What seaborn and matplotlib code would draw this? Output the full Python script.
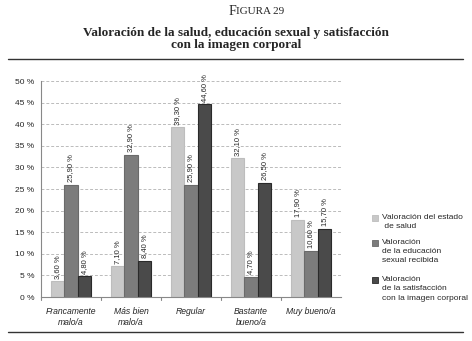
import matplotlib
matplotlib.use("Agg")
import matplotlib.pyplot as plt
import seaborn as sns
import pandas as pd
import numpy as np
from matplotlib.lines import Line2D
from matplotlib.patches import Rectangle

categories = ["Francamente\nmalo/a", "Más bien\nmalo/a", "Regular", "Bastante\nbueno/a", "Muy bueno/a"]
series = ["Valoración del estado\n de salud",
          "Valoración\nde la educación\nsexual recibida",
          "Valoración\nde la satisfacción\ncon la imagen corporal"]
salud = [3.60, 7.10, 39.30, 32.10, 17.90]
educacion = [25.90, 32.90, 25.90, 4.70, 10.60]
imagen = [4.80, 8.40, 44.60, 26.50, 15.70]
colors = ["#c8c8c8", "#7c7c7c", "#4a4a4a"]
edges = ["#bdbdbd", "#6a6a6a", "#2a2a2a"]

sns.set_style("white")
narrow = ["Liberation Sans Narrow", "Liberation Sans", "DejaVu Sans"]

rows = []
for s, vals in zip(series, [salud, educacion, imagen]):
    for c, v in zip(categories, vals):
        rows.append({"cat": c, "serie": s, "val": v})
df = pd.DataFrame(rows)

fig = plt.figure(figsize=(4.72, 3.41), dpi=100)
ax = fig.add_axes([0.087, 0.129, 0.635, 0.633])
sns.barplot(data=df, x="cat", y="val", hue="serie", order=categories, hue_order=series,
            palette=colors, width=0.67, ax=ax, legend=False, saturation=1)

for cont, ec in zip(ax.containers, edges):
    for p in cont.patches:
        p.set_edgecolor(ec)
        p.set_linewidth(0.8)
    labels = [("%.2f" % v).replace(".", ",") + " %" for v in cont.datavalues]
    ax.bar_label(cont, labels=labels, rotation=90, padding=2, fontsize=5.5, family=narrow)

ax.set_ylim(0, 50)
ax.set_xlim(-0.5, 4.5)
ax.set_yticks(np.arange(0, 51, 5))
ax.set_yticklabels([f"{t} %" for t in range(0, 51, 5)], family=narrow, fontsize=6)
ax.set_xticks(range(5))
ax.set_xticklabels(categories, family=narrow, fontsize=6.2, style="italic", linespacing=1.35)
ax.tick_params(axis="x", length=0, pad=7)
ax.tick_params(axis="y", length=3, width=0.8, color="#888888", pad=2)
ax.set_xlabel("")
ax.set_ylabel("")
for b in np.arange(-0.5, 4.5, 1.0):
    ax.plot([b, b], [0, -0.015], transform=ax.get_xaxis_transform(), color="#888888",
            lw=0.8, clip_on=False)
ax.yaxis.grid(True, linestyle=(0, (3, 2)), color="#bbbbbb", lw=0.7)
ax.set_axisbelow(True)
for sp in ["top", "right"]:
    ax.spines[sp].set_visible(False)
for sp in ["left", "bottom"]:
    ax.spines[sp].set_color("#888888")
    ax.spines[sp].set_linewidth(0.8)

# legend drawn manually: square aligned with first text line
W, H = 472.0, 341.0
leg_y = [218, 243, 280]
for c, e, s, yc in zip(colors, edges, series, leg_y):
    fig.add_artist(Rectangle((372 / W, 1 - (yc + 3) / H), 6 / W, 6 / H,
                             facecolor=c, edgecolor=e, lw=0.6, transform=fig.transFigure))
    fig.text(382 / W, 1 - (yc - 4) / H, s, ha="left", va="top", family=narrow,
             fontsize=6, linespacing=1.45)

serif = ["Liberation Serif", "DejaVu Serif"]
fig.text(0.5, 0.965, "F", ha="right", va="center", family=serif, fontsize=10)
fig.text(0.5, 0.965, "IGURA 29", ha="left", va="center", family=serif, fontsize=8)
fig.text(0.5, 0.903, "Valoración de la salud, educación sexual y satisfacción",
         ha="center", va="center", family=serif, fontsize=9.5, weight="bold")
fig.text(0.5, 0.869, "con la imagen corporal",
         ha="center", va="center", family=serif, fontsize=9.5, weight="bold")
fig.add_artist(Line2D([0.017, 0.981], [0.827, 0.827], color="#333333", lw=1.0))
fig.add_artist(Line2D([0.017, 0.981], [0.025, 0.025], color="#333333", lw=1.0))

fig.savefig("out.png", dpi=100)
